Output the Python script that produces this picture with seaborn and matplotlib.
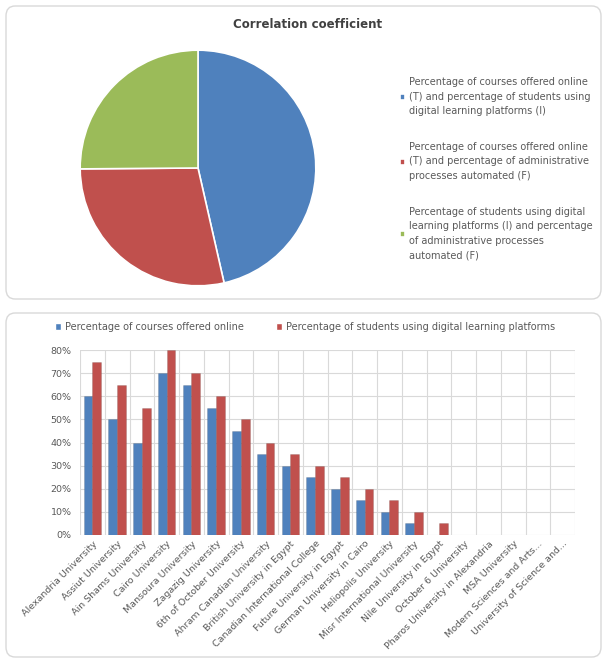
import numpy as np
import pandas as pd
import matplotlib
matplotlib.use("Agg")
import matplotlib.pyplot as plt
import seaborn as sns
from matplotlib.patches import FancyBboxPatch, Patch
from matplotlib.ticker import PercentFormatter, MultipleLocator, FixedLocator

# pie data
pie_labels = [
    "Percentage of courses offered online\n(T) and percentage of students using\ndigital learning platforms (I)",
    "Percentage of courses offered online\n(T) and percentage of administrative\nprocesses automated (F)",
    "Percentage of students using digital\nlearning platforms (I) and percentage\nof administrative processes\nautomated (F)",
]
pie_values = [0.98, 0.60, 0.53]

# bar data
universities = [
    "Alexandria University", "Assiut University", "Ain Shams University", "Cairo University",
    "Mansoura University", "Zagazig University", "6th of October University",
    "Ahram Canadian University", "British University in Egypt", "Canadian International College",
    "Future University in Egypt", "German University in Cairo", "Heliopolis University",
    "Misr International University", "Nile University in Egypt", "October 6 University",
    "Pharos University in Alexandria", "MSA University", "Modern Sciences and Arts...",
    "University of Science and...",
]
courses_online = [0.60, 0.50, 0.40, 0.70, 0.65, 0.55, 0.45, 0.35, 0.30, 0.25,
                  0.20, 0.15, 0.10, 0.05, 0.0, 0.0, 0.0, 0.0, 0.0, 0.0]
students_digital = [0.75, 0.65, 0.55, 0.80, 0.70, 0.60, 0.50, 0.40, 0.35, 0.30,
                    0.25, 0.20, 0.15, 0.10, 0.05, 0.0, 0.0, 0.0, 0.0, 0.0]
series_names = ["Percentage of courses offered online",
                "Percentage of students using digital learning platforms"]

colors = ["#4F81BD", "#C0504D", "#9BBB59"]
grey = "#595959"

sns.set_style("white")
plt.rcParams['font.family'] = ['DejaVu Sans']

W, H = 608, 663
fig = plt.figure(figsize=(W / 100, H / 100), dpi=100)

def fx(px):
    return px / W

def fy(py):
    return 1 - py / H

# panel boxes
for (x0, y0, x1, y1) in [(6, 6, 601, 299), (6, 313, 601, 657)]:
    box = FancyBboxPatch((fx(x0), fy(y1)), fx(x1) - fx(x0), fy(y0) - fy(y1),
                         boxstyle="round,pad=0,rounding_size=0.015",
                         transform=fig.transFigure, facecolor="white",
                         edgecolor="#D9D9D9", linewidth=1.0, zorder=-5)
    fig.patches.append(box)

# ---- pie ----
fig.text(fx(308), fy(24), "Correlation coefficient", ha="center", va="center",
         fontsize=8.5, fontweight="bold", color="#404040")
ax1 = fig.add_axes([fx(79), fy(287), fx(238), 238 / H])
ax1.patch.set_alpha(0)
wedges, _ = ax1.pie(pie_values, colors=colors, startangle=90, counterclock=False,
                    wedgeprops=dict(edgecolor="white", linewidth=1.2))
ax1.set_xlim(-1.01, 1.01)
ax1.set_ylim(-1.01, 1.01)
ax1.set_aspect("equal")
leg1 = fig.legend(wedges, pie_labels, loc="upper left", bbox_to_anchor=(fx(391), fy(68)),
                  frameon=False, fontsize=7.0, labelcolor=grey, handlelength=0.55,
                  handleheight=0.55, handletextpad=0.45, labelspacing=2.6)
for t in leg1.get_texts():
    t.set_linespacing(1.6)

# ---- bars ----
df = pd.DataFrame({
    "University": universities * 2,
    "Value": courses_online + students_digital,
    "Series": [series_names[0]] * len(universities) + [series_names[1]] * len(universities),
})
ax2 = fig.add_axes([fx(80), fy(535), fx(495), (535 - 350) / H])
ax2.patch.set_alpha(0)
sns.barplot(data=df, x="University", y="Value", hue="Series", palette=colors[:2],
            saturation=1, width=0.7, ax=ax2, legend=False, zorder=3)
for p in ax2.patches:
    p.set_edgecolor("#00000030")
    p.set_linewidth(0.4)
ax2.set_ylim(0, 0.8)
ax2.set_xlim(-0.5, len(universities) - 0.5)
ax2.yaxis.set_major_locator(MultipleLocator(0.1))
ax2.yaxis.set_major_formatter(PercentFormatter(1.0, decimals=0))
ax2.xaxis.set_minor_locator(FixedLocator(np.arange(-0.5, len(universities), 1)))
ax2.grid(axis="y", color="#D9D9D9", linewidth=0.8, zorder=0)
ax2.grid(axis="x", which="minor", color="#D9D9D9", linewidth=0.8, zorder=0)
ax2.set_axisbelow(True)
for s in ax2.spines.values():
    s.set_visible(False)
ax2.set_xlabel("")
ax2.set_ylabel("")
ax2.tick_params(axis="y", labelsize=6.8, colors=grey, length=0, pad=6)
ax2.tick_params(axis="x", which="both", length=0, labelsize=6.8, colors=grey, pad=3)
plt.setp(ax2.get_xticklabels(), rotation=45, ha="right", rotation_mode="anchor")

handles = [Patch(facecolor=colors[0]), Patch(facecolor=colors[1])]
fig.legend(handles, series_names, loc="center", bbox_to_anchor=(fx(305), fy(327)),
           ncol=2, frameon=False, fontsize=7.0, labelcolor=grey, handlelength=0.6,
           handleheight=0.6, handletextpad=0.4, columnspacing=3.3)

fig.savefig("out.png", dpi=100)
